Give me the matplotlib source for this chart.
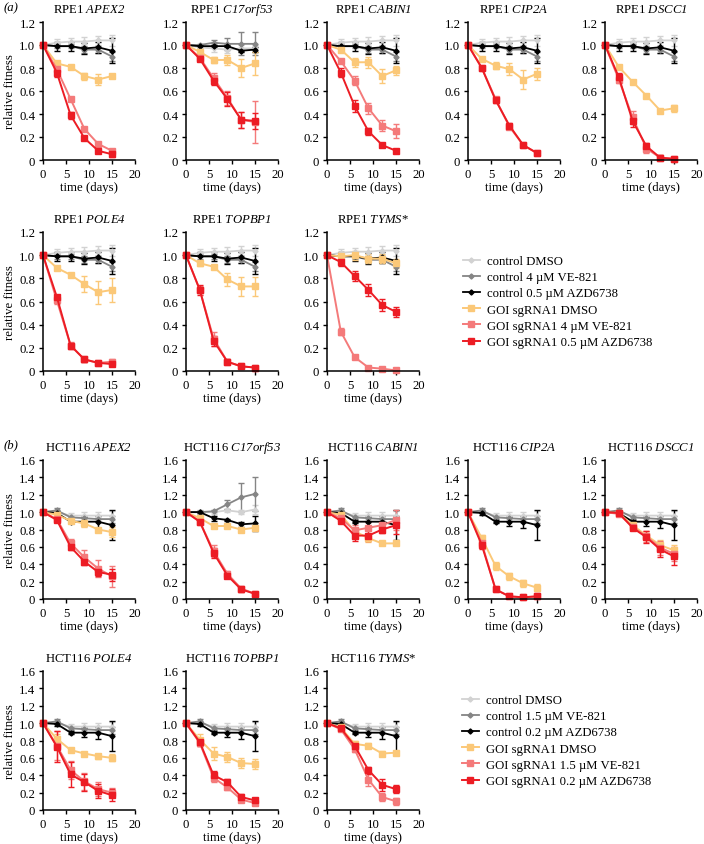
import numpy as np
import matplotlib
matplotlib.use("Agg")
from matplotlib import pyplot as plt
from matplotlib.lines import Line2D

plt.rcParams['font.family'] = ['Liberation Serif', 'DejaVu Serif']
# gene names are italic, digits too, so map mathtext roman to the italic face
plt.rcParams['mathtext.fontset'] = 'custom'
plt.rcParams['mathtext.rm'] = 'Liberation Serif:italic'
plt.rcParams['mathtext.it'] = 'Liberation Serif:italic'

days = [0, 3, 6, 9, 12, 15]

genes = ['APEX2', 'C17orf53', 'CABIN1', 'CIP2A', 'DSCC1', 'POLE4', 'TOPBP1', 'TYMS']

# ---- RPE1 controls (shared), C17orf53 had its own controls
rpe_ctrl = [[1.0, 1.02, 1.03, 1.03, 1.04, 1.04],
            [1.0, 0.99, 0.99, 0.96, 0.96, 0.90],
            [1.0, 0.99, 0.99, 0.97, 0.98, 0.95]]
rpe_ctrl_err = [[0, 0.03, 0.03, 0.04, 0.04, 0.05],
                [0, 0.02, 0.02, 0.03, 0.03, 0.04],
                [0, 0.04, 0.04, 0.05, 0.05, 0.11]]
rpe_ctrl_c17 = [[1.0, 0.98, 0.97, 0.96, 0.97, 0.97],
                [1.0, 1.0, 1.02, 1.01, 1.01, 1.01],
                [1.0, 0.99, 0.99, 0.99, 0.95, 0.96]]
rpe_ctrl_c17_err = [[0, 0.02, 0.03, 0.03, 0.03, 0.03],
                    [0, 0.01, 0.02, 0.05, 0.10, 0.10],
                    [0, 0.01, 0.01, 0.01, 0.01, 0.02]]

# ---- RPE1 GOI sgRNA1: DMSO, VE-821, AZD6738
rpe_goi = {
    'APEX2':    [[1.0, 0.84, 0.81, 0.73, 0.70, 0.73],
                 [1.0, 0.79, 0.53, 0.27, 0.14, 0.08],
                 [1.0, 0.76, 0.39, 0.19, 0.08, 0.05]],
    'C17orf53': [[1.0, 0.94, 0.87, 0.87, 0.80, 0.84],
                 [1.0, 0.89, 0.71, 0.54, 0.35, 0.33],
                 [1.0, 0.88, 0.69, 0.53, 0.35, 0.34]],
    'CABIN1':   [[1.0, 0.96, 0.85, 0.85, 0.73, 0.78],
                 [1.0, 0.86, 0.69, 0.45, 0.30, 0.25],
                 [1.0, 0.76, 0.47, 0.25, 0.13, 0.08]],
    'CIP2A':    [[1.0, 0.88, 0.82, 0.79, 0.70, 0.75],
                 [1.0, 0.80, 0.53, 0.29, 0.13, 0.06],
                 [1.0, 0.80, 0.52, 0.30, 0.13, 0.06]],
    'DSCC1':    [[1.0, 0.81, 0.68, 0.56, 0.43, 0.45],
                 [1.0, 0.70, 0.37, 0.10, 0.02, 0.01],
                 [1.0, 0.72, 0.34, 0.12, 0.02, 0.01]],
    'POLE4':    [[1.0, 0.89, 0.83, 0.75, 0.68, 0.70],
                 [1.0, 0.61, 0.22, 0.10, 0.07, 0.08],
                 [1.0, 0.64, 0.22, 0.10, 0.07, 0.06]],
    'TOPBP1':   [[1.0, 0.93, 0.90, 0.79, 0.73, 0.73],
                 [1.0, 0.70, 0.28, 0.08, 0.04, 0.03],
                 [1.0, 0.70, 0.26, 0.08, 0.04, 0.03]],
    'TYMS':     [[1.0, 0.99, 1.0, 0.97, 0.97, 0.93],
                 [1.0, 0.34, 0.12, 0.03, 0.02, 0.005],
                 [1.0, 0.94, 0.82, 0.70, 0.57, 0.51]],
}
rpe_goi_err = {
    'APEX2':    [[0, 0.02, 0.02, 0.03, 0.05, 0.02], [0, 0.02, 0.01, 0.01, 0.01, 0.01], [0, 0.04, 0.03, 0.01, 0.01, 0.02]],
    'C17orf53': [[0, 0.03, 0.03, 0.04, 0.08, 0.10], [0, 0.02, 0.05, 0.06, 0.07, 0.18], [0, 0.02, 0.04, 0.06, 0.07, 0.07]],
    'CABIN1':   [[0, 0.02, 0.04, 0.05, 0.06, 0.04], [0, 0.01, 0.04, 0.05, 0.05, 0.06], [0, 0.04, 0.05, 0.03, 0.02, 0.01]],
    'CIP2A':    [[0, 0.01, 0.03, 0.05, 0.08, 0.05], [0, 0.01, 0.02, 0.02, 0.02, 0.01], [0, 0.02, 0.02, 0.02, 0.02, 0.01]],
    'DSCC1':    [[0, 0.01, 0.01, 0.01, 0.01, 0.03], [0, 0.03, 0.06, 0.04, 0.02, 0.01], [0, 0.04, 0.05, 0.03, 0.02, 0.01]],
    'POLE4':    [[0, 0.02, 0.02, 0.07, 0.10, 0.10], [0, 0.03, 0.03, 0.02, 0.02, 0.02], [0, 0.02, 0.02, 0.02, 0.02, 0.01]],
    'TOPBP1':   [[0, 0.02, 0.01, 0.06, 0.08, 0.08], [0, 0.03, 0.06, 0.02, 0.01, 0.01], [0, 0.04, 0.04, 0.02, 0.01, 0.01]],
    'TYMS':     [[0, 0.04, 0.04, 0.04, 0.04, 0.04], [0, 0.03, 0.01, 0.01, 0.01, 0.01], [0, 0.03, 0.04, 0.05, 0.05, 0.04]],
}

# ---- HCT116 controls
hct_ctrl = [[1.0, 1.0, 0.96, 0.96, 0.96, 0.96],
            [1.0, 1.02, 0.94, 0.93, 0.92, 0.92],
            [1.0, 0.99, 0.89, 0.89, 0.89, 0.85]]
hct_ctrl_err = [[0, 0.03, 0.03, 0.04, 0.04, 0.05],
                [0, 0.03, 0.02, 0.03, 0.03, 0.04],
                [0, 0.02, 0.02, 0.05, 0.07, 0.17]]
hct_ctrl_c17 = [[1.0, 1.0, 1.0, 1.02, 1.0, 1.03],
                [1.0, 1.0, 1.01, 1.09, 1.17, 1.21],
                [1.0, 1.0, 0.93, 0.91, 0.86, 0.87]]
hct_ctrl_c17_err = [[0, 0.02, 0.02, 0.02, 0.02, 0.05],
                    [0, 0.01, 0.01, 0.05, 0.17, 0.20],
                    [0, 0.01, 0.03, 0.01, 0.03, 0.09]]

hct_goi = {
    'APEX2':    [[1.0, 0.97, 0.90, 0.87, 0.80, 0.77],
                 [1.0, 0.92, 0.64, 0.48, 0.35, 0.26],
                 [1.0, 0.91, 0.60, 0.43, 0.31, 0.28]],
    'C17orf53': [[1.0, 0.93, 0.84, 0.84, 0.80, 0.82],
                 [1.0, 0.89, 0.55, 0.29, 0.12, 0.06],
                 [1.0, 0.89, 0.53, 0.27, 0.11, 0.06]],
    'CABIN1':   [[1.0, 0.97, 0.78, 0.70, 0.64, 0.64],
                 [1.0, 0.93, 0.79, 0.82, 0.85, 0.91],
                 [1.0, 0.90, 0.73, 0.73, 0.80, 0.85]],
    'CIP2A':    [[1.0, 0.70, 0.38, 0.26, 0.18, 0.13],
                 [1.0, 0.64, 0.11, 0.03, 0.02, 0.03],
                 [1.0, 0.62, 0.11, 0.03, 0.02, 0.03]],
    'DSCC1':    [[1.0, 0.99, 0.85, 0.73, 0.62, 0.56],
                 [1.0, 0.98, 0.83, 0.72, 0.59, 0.52],
                 [1.0, 0.99, 0.82, 0.71, 0.57, 0.49]],
    'POLE4':    [[1.0, 0.82, 0.69, 0.65, 0.62, 0.60],
                 [1.0, 0.74, 0.46, 0.33, 0.24, 0.20],
                 [1.0, 0.73, 0.41, 0.32, 0.22, 0.17]],
    'TOPBP1':   [[1.0, 0.81, 0.65, 0.61, 0.54, 0.53],
                 [1.0, 0.77, 0.37, 0.26, 0.12, 0.08],
                 [1.0, 0.78, 0.40, 0.32, 0.15, 0.11]],
    'TYMS':     [[1.0, 0.95, 0.76, 0.74, 0.65, 0.66],
                 [1.0, 0.93, 0.70, 0.35, 0.15, 0.10],
                 [1.0, 0.94, 0.74, 0.46, 0.29, 0.24]],
}
hct_goi_err = {
    'APEX2':    [[0, 0.02, 0.02, 0.04, 0.02, 0.06], [0, 0.02, 0.05, 0.08, 0.10, 0.12], [0, 0.02, 0.04, 0.04, 0.05, 0.07]],
    'C17orf53': [[0, 0.02, 0.02, 0.02, 0.02, 0.03], [0, 0.02, 0.07, 0.03, 0.03, 0.01], [0, 0.02, 0.06, 0.03, 0.03, 0.01]],
    'CABIN1':   [[0, 0.02, 0.03, 0.04, 0.02, 0.02], [0, 0.03, 0.06, 0.07, 0.08, 0.11], [0, 0.03, 0.06, 0.06, 0.04, 0.10]],
    'CIP2A':    [[0, 0.04, 0.05, 0.04, 0.04, 0.04], [0, 0.03, 0.01, 0.01, 0.01, 0.02], [0, 0.04, 0.01, 0.01, 0.01, 0.02]],
    'DSCC1':    [[0, 0.02, 0.02, 0.05, 0.06, 0.06], [0, 0.02, 0.03, 0.06, 0.08, 0.08], [0, 0.02, 0.03, 0.07, 0.09, 0.10]],
    'POLE4':    [[0, 0.05, 0.02, 0.02, 0.03, 0.04], [0, 0.17, 0.10, 0.10, 0.08, 0.05], [0, 0.18, 0.14, 0.10, 0.08, 0.07]],
    'TOPBP1':   [[0, 0.06, 0.07, 0.06, 0.06, 0.06], [0, 0.03, 0.05, 0.03, 0.02, 0.02], [0, 0.04, 0.05, 0.04, 0.03, 0.02]],
    'TYMS':     [[0, 0.02, 0.03, 0.03, 0.03, 0.02], [0, 0.02, 0.03, 0.07, 0.05, 0.04], [0, 0.02, 0.03, 0.04, 0.07, 0.05]],
}

rpe_labels = ['control DMSO', 'control 4 \u00b5M VE-821', 'control 0.5 \u00b5M AZD6738',
              'GOI sgRNA1 DMSO', 'GOI sgRNA1 4 \u00b5M VE-821', 'GOI sgRNA1 0.5 \u00b5M AZD6738']
hct_labels = ['control DMSO', 'control 1.5 \u00b5M VE-821', 'control 0.2 \u00b5M AZD6738',
              'GOI sgRNA1 DMSO', 'GOI sgRNA1 1.5 \u00b5M VE-821', 'GOI sgRNA1 0.2 \u00b5M AZD6738']

ctrl_colors = ['#d2d2d2', '#858585', '#000000']
goi_colors = ['#fbc878', '#f47a7a', '#ec1c24']
FS = 9.2

W, H = 704, 845
fig = plt.figure(figsize=(W / 100, H / 100), dpi=100)

col_x = [43, 186, 327, 468, 605]
ax_w = 92
# (top, bottom) in pixels of each row
rows = [(23, 161), (233, 372), (461, 600), (672, 811)]


def fmt(v):
    return '0' if abs(v) < 1e-9 else '%.1f' % v


def draw_panel(ax, title, ctrl, ctrl_err, goi, goi_err, ymax):
    for i in range(3):
        ax.errorbar(days, ctrl[i], yerr=ctrl_err[i], color=ctrl_colors[i], marker='D',
                    markersize=2.6, lw=1.3, elinewidth=1.0, capsize=2.5, capthick=1.0,
                    clip_on=False)
    for i in range(3):
        ax.errorbar(days, goi[i], yerr=goi_err[i], color=goi_colors[i], marker='s',
                    markersize=4.0, lw=1.4, elinewidth=1.0, capsize=2.5, capthick=1.0,
                    clip_on=False)
    ax.set_xlim(0, 20)
    ax.set_ylim(0, ymax)
    ax.set_xticks([0, 5, 10, 15, 20])
    yt = np.round(np.arange(0, ymax + 0.01, 0.2), 1)
    ax.set_yticks(yt)
    ax.set_yticklabels([fmt(v) for v in yt])
    for s in ['top', 'right']:
        ax.spines[s].set_visible(False)
    for s in ['left', 'bottom']:
        ax.spines[s].set_linewidth(1.1)
    ax.tick_params(direction='out', length=3, width=1.0, labelsize=FS, pad=2.5)
    ax.set_xlabel('time (days)', fontsize=FS, labelpad=1.2)
    ax.set_title(title, fontsize=FS, pad=7)


def add_block(row_ids, cell, ctrl, ctrl_err, ctrl_c17, ctrl_c17_err, goi, goi_err, ymax):
    for k, g in enumerate(genes):
        r = row_ids[0] if k < 5 else row_ids[1]
        c = k if k < 5 else k - 5
        top, bot = rows[r]
        ax = fig.add_axes([col_x[c] / W, 1 - bot / H, ax_w / W, (bot - top) / H])
        gname = '$\\mathrm{%s}$' % g
        if g == 'TYMS':
            gname += '*'
        if g == 'C17orf53':
            cc, ce = ctrl_c17, ctrl_c17_err
        else:
            cc, ce = ctrl, ctrl_err
        draw_panel(ax, cell + ' ' + gname, cc, ce, goi[g], goi_err[g], ymax)
        if c == 0:
            ax.set_ylabel('relative fitness', fontsize=FS, labelpad=2)


add_block((0, 1), 'RPE1', rpe_ctrl, rpe_ctrl_err, rpe_ctrl_c17, rpe_ctrl_c17_err,
          rpe_goi, rpe_goi_err, 1.2)
add_block((2, 3), 'HCT116', hct_ctrl, hct_ctrl_err, hct_ctrl_c17, hct_ctrl_c17_err,
          hct_goi, hct_goi_err, 1.6)

# legends: plain line + marker handles
handles = []
for i in range(3):
    handles.append(Line2D([], [], color=ctrl_colors[i], marker='D', markersize=2.6, lw=1.3))
for i in range(3):
    handles.append(Line2D([], [], color=goi_colors[i], marker='s', markersize=4.0, lw=1.4))

for labels, (x0, y0) in [(rpe_labels, (463, 256)), (hct_labels, (462, 695))]:
    fig.legend(handles, labels, loc='upper left', bbox_to_anchor=(x0 / W, 1 - y0 / H),
               frameon=False, fontsize=FS, handlelength=1.3, handletextpad=0.6,
               labelspacing=0.33, borderpad=0, borderaxespad=0)

fig.text(4 / W, 1 - 8 / H, '(a)', fontsize=FS, style='italic', va='center')
fig.text(4 / W, 1 - 445 / H, '(b)', fontsize=FS, style='italic', va='center')

fig.savefig('out.png', dpi=100)
